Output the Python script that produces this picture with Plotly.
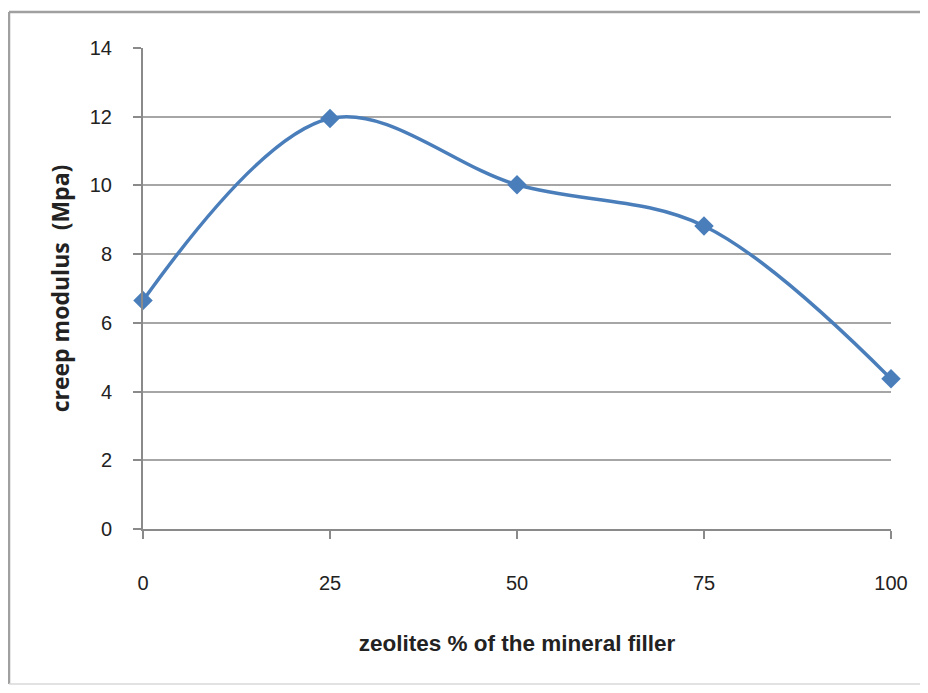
import plotly.graph_objects as go

zeolite_pct = [0, 25, 50, 75, 100]
creep_modulus = [6.65, 11.95, 10.02, 8.82, 4.37]
y_ticks = [0, 2, 4, 6, 8, 10, 12, 14]

OFF = 8  # page body margin
W, H = 928 - 2 * OFF, 693 - 2 * OFF
x_left, x_right = 143, 891
y_top, y_bot = 48, 529
L, R = x_left - OFF, OFF + W - x_right
T, B = y_top - OFF, OFF + H - y_bot

def px(xp):
    return (xp - x_left) / (x_right - x_left)

def py(yp):
    return (y_bot - yp) / (y_bot - y_top)

tick_fam = "Liberation Sans, Arial, sans-serif"
title_fam = "Liberation Sans, Arial, sans-serif"

fig = go.Figure()
fig.add_trace(go.Scatter(
    x=zeolite_pct, y=creep_modulus,
    mode="lines+markers",
    line=dict(color="#4a7ebb", width=3.5, shape="spline", smoothing=1.0),
    marker=dict(symbol="diamond", size=15, color="#4a7ebb"),
    showlegend=False,
    cliponaxis=False,
))

border = dict(color="#a0a0a0", width=2.5)
bx0, by0, bx1, by1 = px(9), py(684), px(920), py(12)

fig.update_layout(
    width=W, height=H,
    margin=dict(l=L, r=R, t=T, b=B),
    paper_bgcolor="white", plot_bgcolor="white",
    font=dict(family=tick_fam, color="#222222"),
    xaxis=dict(
        range=[0, 100], tickvals=zeolite_pct, ticktext=[str(v) for v in zeolite_pct],
        showgrid=False, zeroline=False,
        showline=True, linecolor="#8a8a8a", linewidth=2,
        ticks="outside", ticklen=8, tickcolor="#8a8a8a", tickwidth=1.5,
        ticklabelstandoff=27,
        tickfont=dict(size=20, family=tick_fam, color="#222222"),
        title=dict(text="<b>zeolites % of the mineral filler</b>", standoff=42,
                   font=dict(size=22.5, family=title_fam, color="#222222")),
    ),
    yaxis=dict(
        range=[0, 14], tickvals=y_ticks,
        showgrid=True, gridcolor="#a6a6a6", gridwidth=2,
        zeroline=False,
        showline=True, linecolor="#8a8a8a", linewidth=2,
        ticks="outside", ticklen=8, tickcolor="#8a8a8a", tickwidth=1.5,
        ticklabelstandoff=17,
        tickfont=dict(size=20, family=tick_fam, color="#222222"),
        title=dict(text="<b>creep modulus  (Mpa)</b>", standoff=14,
                   font=dict(size=23, family="Open Sans, Liberation Sans, sans-serif", color="#222222")),
    ),
    shapes=[
        dict(type="line", xref="paper", yref="paper", x0=bx0, x1=bx0, y0=by0, y1=by1, line=border, layer="below"),
        dict(type="line", xref="paper", yref="paper", x0=bx0, x1=bx1, y0=by1, y1=by1, line=border, layer="below"),
        dict(type="line", xref="paper", yref="paper", x0=bx0, x1=bx1, y0=by0, y1=by0,
             line=dict(color="#d8d8d8", width=1.5), layer="below"),
    ],
)

fig.write_html("out.html")
